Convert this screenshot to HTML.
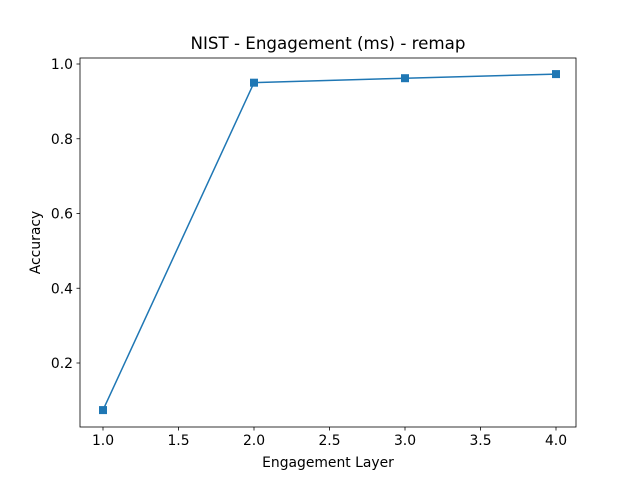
<!DOCTYPE html>
<html><head><meta charset="utf-8">
<style>
body{margin:0;background:#fff;font-family:"Liberation Sans","DejaVu Sans",sans-serif;}
svg text{font-family:"DejaVu Sans","Liberation Sans",sans-serif;}
</style></head>
<body>
<svg id="chart" width="640" height="480" xmlns="http://www.w3.org/2000/svg">
<rect width="640" height="480" fill="#fff"/>
<text x="328" y="49" font-size="16.7" text-anchor="middle">NIST - Engagement (ms) - remap</text>
<g id="axes"></g>
<text x="328" y="467" font-size="13.9" text-anchor="middle">Engagement Layer</text>
<text x="40" y="242.5" font-size="13.9" text-anchor="middle" transform="rotate(-90 40 242.5)">Accuracy</text>
</svg>
<script>
const xValues = [1, 2, 3, 4];
const accuracy = [0.074, 0.950, 0.962, 0.973];
const xTicks = [1.0, 1.5, 2.0, 2.5, 3.0, 3.5, 4.0];
const yTicks = [0.2, 0.4, 0.6, 0.8, 1.0];

const L=80,R=576,T=58,B=427;
const xs=v=>103+(v-1)*151;
const ys=v=>363-(v-0.2)*373.75;
const NS="http://www.w3.org/2000/svg";
const g=document.getElementById('axes');
function mk(t,a){const e=document.createElementNS(NS,t);for(const k in a)e.setAttribute(k,a[k]);g.appendChild(e);return e;}

xTicks.forEach(v=>{
  const x=xs(v);
  const t=mk('line',{x1:x,x2:x,y1:B,y2:B+3.5,stroke:'#000','stroke-width':0.8});
  
  
  const l=mk('text',{x:x,y:B+18,'font-size':13.9,'text-anchor':'middle'});
  l.textContent=v.toFixed(1);
  
  
});
yTicks.forEach(v=>{
  const y=ys(v);
  const t=mk('line',{x1:L-3.5,x2:L,y1:y,y2:y,stroke:'#000','stroke-width':0.8});
  
  
  const l=mk('text',{x:L-7,y:y+5,'font-size':13.9,'text-anchor':'end'});
  l.textContent=v.toFixed(1);
  
  
});
const pts=xValues.map((v,i)=>xs(v)+','+ys(accuracy[i])).join(' ');
const line=mk('polyline',{points:pts,fill:'none',stroke:'#1f77b4','stroke-width':1.5});


xValues.forEach((v,i)=>{
  const m=mk('rect',{x:xs(v)-4,y:ys(accuracy[i])-4,width:8,height:8,fill:'#1f77b4'});
  
  
});
const frame=mk('rect',{x:L,y:T,width:R-L,height:B-T,fill:'none',stroke:'#000','stroke-width':0.8});


</script>
</body></html>
